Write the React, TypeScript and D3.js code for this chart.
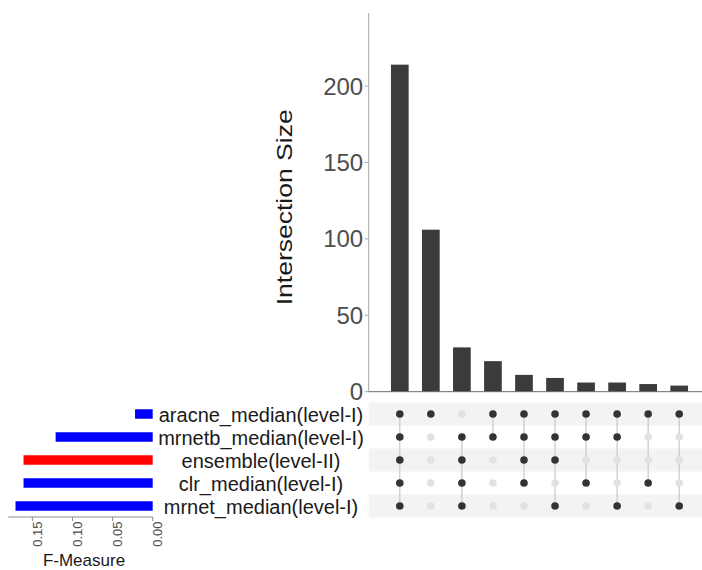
import React from "react";
import * as d3 from "d3";

const sets = [
  "aracne_median(level-I)",
  "mrnetb_median(level-I)",
  "ensemble(level-II)",
  "clr_median(level-I)",
  "mrnet_median(level-I)",
];
const setSizes = [0.022, 0.121, 0.161, 0.161, 0.171];
const setColors = ["#0000ff", "#0000ff", "#ff0000", "#0000ff", "#0000ff"];

const intersectionSizes = [214, 106, 29, 20, 11, 9, 6, 6, 5, 4];
// membership by set index (0 = aracne ... 4 = mrnet)
const memberships = [
  [0, 1, 2, 3, 4],
  [0],
  [1, 2, 3, 4],
  [0, 1],
  [0, 1, 2, 3],
  [0, 1, 2, 4],
  [0, 1, 3],
  [0, 1, 4],
  [0, 3],
  [0, 4],
];

const yTicks = [0, 50, 100, 150, 200];
const fTicks = [0.15, 0.1, 0.05, 0.0];

const FONT = "'Liberation Sans', Arial, Helvetica, sans-serif";

export default function App() {
  const W = 702;
  const H = 570;

  const cols = d3.range(intersectionSizes.length);
  const x = d3.scalePoint<number>().domain(cols).range([399.8, 679.2]);
  const barW = x.step() * 0.57;

  const y = d3.scaleLinear().domain([0, 247.8]).range([391.7, 13]);

  const rowY = d3.scalePoint<number>().domain(d3.range(sets.length)).range([414, 506]);
  const rowStep = rowY.step();

  const fx = d3.scaleLinear().domain([0, 0.18]).range([152.7, 8.3]);
  const setBarH = 9.5;

  const axisX = 368.7;
  const axisY = 391.7;

  return (
    <svg
      width={W}
      height={H}
      style={{ position: "absolute", left: 0, top: 0, background: "#fff" }}
      fontFamily={FONT}
    >
      {/* matrix stripes */}
      {sets.map((s, i) =>
        i % 2 === 0 ? (
          <rect
            key={"stripe" + s}
            x={axisX}
            y={(rowY(i) as number) - rowStep / 2}
            width={W - axisX}
            height={rowStep}
            fill="#f3f3f3"
          />
        ) : null
      )}

      {/* intersection bars */}
      {intersectionSizes.map((v, i) => (
        <rect
          key={"bar" + i}
          x={(x(i) as number) - barW / 2}
          y={y(v)}
          width={barW}
          height={y(0) - y(v)}
          fill="#3b3b3b"
        />
      ))}

      {/* y axis */}
      <line x1={axisX} x2={axisX} y1={y.range()[1]} y2={axisY} stroke="#a8a8a8" strokeWidth={1} />
      <line x1={axisX} x2={W} y1={axisY} y2={axisY} stroke="#6a6a6a" strokeWidth={1} />
      {yTicks.map((t) => (
        <g key={"yt" + t}>
          <line x1={axisX - 4} x2={axisX} y1={y(t)} y2={y(t)} stroke="#a8a8a8" />
          <text
            x={axisX - 5.5}
            y={y(t)}
            textAnchor="end"
            dominantBaseline="central"
            fontSize={24}
            fill="#4d4d4d"
          >
            {t}
          </text>
        </g>
      ))}
      <text
        transform={`translate(292,${(y(0) + y.range()[1]) / 2 + 5}) rotate(-90)`}
        textAnchor="middle"
        fontSize={22}
        textLength={196}
        lengthAdjust="spacingAndGlyphs"
        fill="#1a1a1a"
      >
        Intersection Size
      </text>

      {/* matrix lines */}
      {memberships.map((m, i) => {
        const ys = m.map((r) => rowY(r) as number);
        return (
          <line
            key={"ml" + i}
            x1={x(i)}
            x2={x(i)}
            y1={d3.min(ys)}
            y2={d3.max(ys)}
            stroke="#c8c8c8"
            strokeWidth={1.2}
          />
        );
      })}
      {/* matrix dots */}
      {memberships.map((m, i) =>
        sets.map((s, r) => (
          <circle
            key={"dot" + i + "-" + r}
            cx={x(i)}
            cy={rowY(r)}
            r={3.8}
            fill={m.includes(r) ? "#333333" : "#e2e2e2"}
          />
        ))
      )}

      {/* set size bars */}
      {setSizes.map((v, i) => (
        <rect
          key={"sb" + i}
          x={fx(v)}
          y={(rowY(i) as number) - setBarH / 2}
          width={fx(0) - fx(v)}
          height={setBarH}
          fill={setColors[i]}
        />
      ))}
      {/* set labels */}
      {sets.map((s, i) => (
        <text
          key={"sl" + s}
          x={261}
          y={(rowY(i) as number) + 1}
          textAnchor="middle"
          dominantBaseline="central"
          fontSize={20}
          fill="#1a1a1a"
        >
          {s}
        </text>
      ))}

      {/* F-measure axis */}
      <line x1={fx(0.18)} x2={fx(0)} y1={517} y2={517} stroke="#8a8a8a" />
      {fTicks.map((t) => (
        <g key={"ft" + t}>
          <line x1={fx(t)} x2={fx(t)} y1={517} y2={521} stroke="#8a8a8a" />
          <text
            transform={`translate(${fx(t) + 9.5},521.5) rotate(-90)`}
            textAnchor="end"
            fontSize={13}
            fill="#4d4d4d"
          >
            {t.toFixed(2)}
          </text>
        </g>
      ))}
      <text x={84} y={565.5} textAnchor="middle" fontSize={17} fill="#1a1a1a">
        F-Measure
      </text>
    </svg>
  );
}
